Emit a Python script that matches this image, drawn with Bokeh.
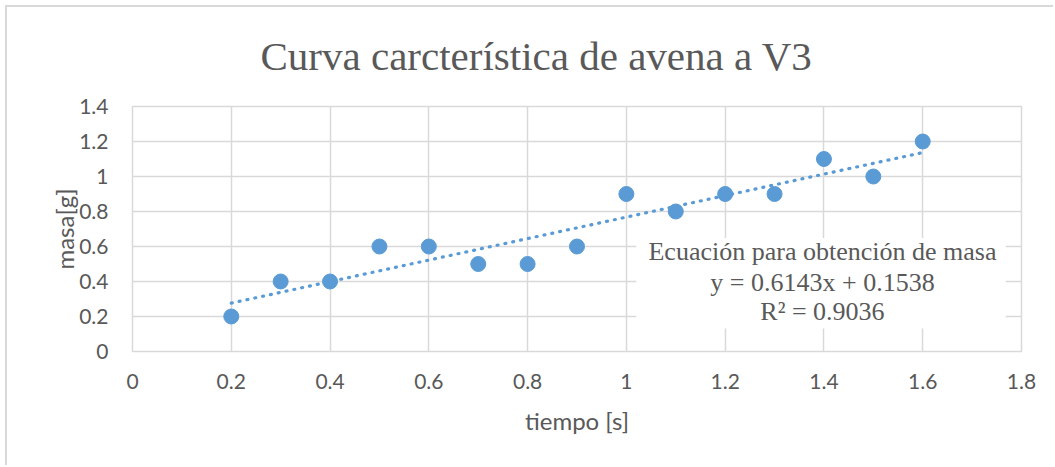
import numpy as np
from bokeh.plotting import figure
from bokeh.models import Range1d, Label, BoxAnnotation, FixedTicker
from bokeh.embed import file_html
from bokeh.resources import INLINE

# ---- data ----
tiempo = [0.2, 0.3, 0.4, 0.5, 0.6, 0.7, 0.8, 0.9, 1.0, 1.1, 1.2, 1.3, 1.4, 1.5, 1.6]
masa = [0.2, 0.4, 0.4, 0.6, 0.6, 0.5, 0.5, 0.6, 0.9, 0.8, 0.9, 0.9, 1.1, 1.0, 1.2]
x_ticks = [0, 0.2, 0.4, 0.6, 0.8, 1.0, 1.2, 1.4, 1.6, 1.8]
x_tick_labels = ["0", "0.2", "0.4", "0.6", "0.8", "1", "1.2", "1.4", "1.6", "1.8"]
y_ticks = [0, 0.2, 0.4, 0.6, 0.8, 1.0, 1.2, 1.4]
y_tick_labels = ["0", "0.2", "0.4", "0.6", "0.8", "1", "1.2", "1.4"]
title_text = "Curva carcterística de avena a V3"
eq_lines = ["Ecuación para obtención de masa", "y = 0.6143x + 0.1538", "R² = 0.9036"]

GRAY = "#d9d9d9"
TXT = "#595959"
BLUE = "#5b9bd5"

p = figure(width=1048, height=460, output_backend="svg", toolbar_location=None,
           x_range=Range1d(0, 1.8), y_range=Range1d(0, 1.4),
           min_border_left=125, min_border_right=34, min_border_top=99, min_border_bottom=116,
           background_fill_color="white", border_fill_color="white")
p.styles = {"margin-left": "5px", "margin-top": "5px",
            "border-top": "2px solid #d9d9d9", "border-left": "2px solid #d9d9d9"}
p.outline_line_color = GRAY
p.outline_line_width = 1.5

p.title.text = title_text
p.title.align = "left"
p.title.offset = 128
p.title.standoff = 51
p.title.vertical_align = "top"
p.title.text_font = "Liberation Serif"
p.title.text_font_size = "41px"
p.title.text_font_style = "normal"
p.title.text_color = TXT

for ax, ticks, labels in ((p.xaxis[0], x_ticks, x_tick_labels), (p.yaxis[0], y_ticks, y_tick_labels)):
    ax.ticker = FixedTicker(ticks=ticks)
    ax.major_label_overrides = {t: l for t, l in zip(ticks, labels)}
    ax.axis_line_color = None
    ax.major_tick_line_color = None
    ax.minor_tick_line_color = None
    ax.major_label_text_font = "Lato"
    ax.major_label_text_font_size = "21px"
    ax.major_label_text_color = TXT
    ax.axis_label_text_font = "Lato"
    ax.axis_label_text_font_size = "24px"
    ax.axis_label_text_font_style = "normal"
    ax.axis_label_text_color = TXT

p.xaxis.axis_label = "tiempo [s]"
p.yaxis.axis_label = "masa[g]"
p.xaxis.major_label_standoff = 16
p.yaxis.major_label_standoff = 18
p.xaxis.axis_label_standoff = 14
p.yaxis.axis_label_standoff = -3

p.xgrid.ticker = FixedTicker(ticks=x_ticks)
p.ygrid.ticker = FixedTicker(ticks=y_ticks)
p.grid.grid_line_color = GRAY
p.grid.grid_line_width = 1.5

# trendline (least squares from the data)
m, b = np.polyfit(tiempo, masa, 1)
xt = [min(tiempo), max(tiempo)]
p.line(xt, [m * v + b for v in xt], line_color=BLUE, line_width=3.2,
       line_dash="1 7", line_cap="round")

p.scatter(tiempo, masa, size=15, fill_color=BLUE, line_color=BLUE)

# equation box
p.add_layout(BoxAnnotation(left=1.02, right=1.768, bottom=0.131, top=0.649,
                           fill_color="white", fill_alpha=1, line_color=None))
for t, yy in zip(eq_lines, [0.569, 0.393, 0.228]):
    p.add_layout(Label(x=1.397, y=yy, text=t, text_align="center", text_baseline="middle",
                       text_font="Liberation Serif", text_font_size="26px", text_color=TXT))

open("out.html", "w").write(file_html(p, INLINE))
